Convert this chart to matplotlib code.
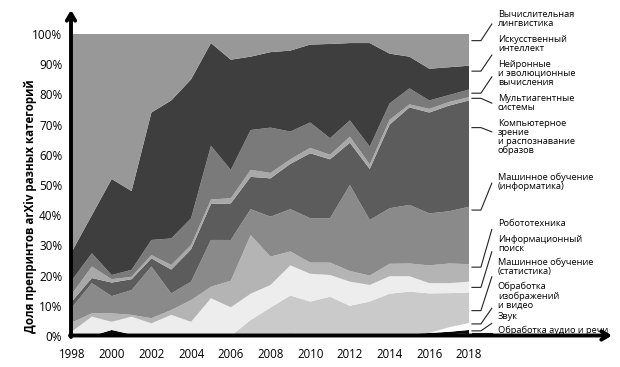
import numpy as np
import matplotlib
matplotlib.use('Agg')
import matplotlib.pyplot as plt

plt.rcParams['font.family'] = ['Open Sans', 'DejaVu Sans']

years = list(range(1998, 2019))

# доли категорий, % (снизу вверх по стопке)
audio_speech = [0, 0, 0, 0, 0, 0, 0, 0, 0, 0, 0, 0, 0, 0, 0, 0, 0, 0, 0, 0.5, 1.0]
sound = [0, 0, 2.0, 0.5, 0, 0, 0, 0, 0, 0, 0, 0.8, 0.3, 0.7, 0.2, 0.2, 0.3, 0.6, 1.0, 0.9, 1.0]
image_video = [0, 0, 0, 0, 0, 0, 0, 0, 0, 0, 0, 0, 0, 0, 0, 0, 0, 0, 0, 1.5, 2.3]
ml_stat = [0, 0, 0, 0, 0, 0, 0, 0, 0, 5.3, 9.4, 12.6, 11.1, 12.3, 9.8, 11.2, 13.7, 14.1, 13.1, 11.3, 10.1]
inf_retrieval = [1.5, 6.4, 2.7, 5.9, 4.2, 7.0, 4.7, 12.5, 9.5, 8.7, 7.5, 10.0, 9.2, 7.2, 8.0, 5.5, 5.8, 5.1, 3.4, 3.3, 3.6]
robotics = [3.0, 1.1, 2.8, 0.6, 1.7, 1.6, 7.2, 3.8, 8.8, 19.4, 9.4, 4.6, 3.7, 4.1, 3.5, 3.1, 4.1, 4.2, 5.9, 6.5, 5.8]
ml_cs = [5.0, 10.0, 5.7, 8.2, 17.1, 5.5, 6.1, 15.5, 13.5, 8.6, 13.2, 14.0, 14.7, 14.7, 28.5, 18.4, 18.4, 19.4, 17.2, 17.3, 19.0]
comp_vision = [2.0, 1.7, 4.5, 3.6, 2.7, 7.9, 10.7, 11.9, 12.1, 10.7, 12.7, 15.0, 21.5, 19.5, 14.0, 16.9, 27.7, 32.3, 33.4, 35.0, 35.2]
multiagent = [2.5, 3.8, 1.1, 0.8, 1.1, 1.5, 1.4, 1.5, 1.7, 2.3, 1.8, 1.5, 1.8, 1.5, 2.0, 1.5, 1.6, 1.0, 1.2, 1.2, 1.1]
neural_evol = [4.5, 4.4, 1.4, 2.3, 5.0, 8.8, 8.9, 17.8, 9.4, 13.2, 15.0, 9.2, 8.4, 5.5, 5.4, 5.9, 5.4, 5.3, 2.8, 2.3, 2.5]
art_intel = [9.5, 12.6, 31.8, 26.1, 42.2, 45.7, 46.0, 34.0, 36.5, 24.3, 25.0, 26.8, 25.8, 31.2, 25.6, 34.3, 16.5, 10.5, 10.5, 9.2, 7.9]
comp_ling = [72, 60, 48, 52, 26, 22, 15, 3, 8.5, 7.5, 6, 5.5, 3.5, 3.3, 3, 3, 6.5, 7.5, 11.5, 11, 10.5]

series = [audio_speech, sound, image_video, ml_stat, inf_retrieval, robotics,
          ml_cs, comp_vision, multiagent, neural_evol, art_intel, comp_ling]
colors = ['#000000', '#0a0a0a', '#ffffff', '#cacaca', '#ededed', '#b4b4b4',
          '#8a8a8a', '#5c5c5c', '#a8a8a8', '#7a7a7a', '#3e3e3e', '#989898']

labels = ['Обработка аудио и речи', 'Звук', 'Обработка\nизображений\nи видео',
          'Машинное обучение\n(статистика)', 'Информационный\nпоиск', 'Робототехника',
          'Машинное обучение\n(информатика)', 'Компьютерное\nзрение\nи распознавание\nобразов',
          'Мультиагентные\nсистемы', 'Нейронные\nи эволюционные\nвычисления',
          'Искусственный\nинтеллект', 'Вычислительная\nлингвистика']
# (y линии у края, y конца выноски, y центра подписи) в % оси
lab_pos = [(0.9, 0.9, 2.0), (1.7, 4.2, 6.4), (4.0, 9.2, 13.3), (8.4, 19.6, 22.9),
           (16.1, 27.9, 30.5), (22.8, 35.3, 37.1), (41.7, 50.6, 51.1), (69.0, 67.6, 65.9),
           (78.7, 77.1, 77.2), (80.4, 85.8, 87.0), (87.7, 93.0, 96.6), (97.8, 103.3, 104.9)]

W, H = 620, 367
fig = plt.figure(figsize=(W / 100, H / 100), dpi=100)
ax = fig.add_axes([72 / W, 31 / H, 397 / W, 302 / H])

ax.stackplot(years, *series, colors=colors, linewidth=0)
ax.set_xlim(1998, 2018)
ax.set_ylim(0, 100)
for s in ax.spines.values():
    s.set_visible(False)
ax.tick_params(length=0, labelsize=8.5)
ax.set_xticks(range(1998, 2019, 2))
ax.set_yticks(range(0, 101, 10))
ax.set_yticklabels([f'{v}%' for v in range(0, 101, 10)])
ax.tick_params(axis='x', pad=8.5, labelsize=8.3)
ax.tick_params(axis='y', pad=7)

# выноски и подписи справа
for lab, (y0, y1, yt) in zip(labels, lab_pos):
    ax.plot([2018.15, 2018.6, 2019.15], [y0, y0, y1], color='#222222', lw=0.8,
            clip_on=False)
    ax.text(2019.45, yt, lab, fontsize=6.7, va='center', ha='left',
            linespacing=0.98, clip_on=False)

# оси со стрелками
def fp(x, y):
    return (x / W, 1 - y / H)

ax.annotate('', xy=fp(71, 10), xytext=fp(71, 337), xycoords='figure fraction',
            textcoords='figure fraction',
            arrowprops=dict(arrowstyle='->, head_length=0.5, head_width=0.3', lw=2.8,
                            color='black', shrinkA=0, shrinkB=0))
ax.annotate('', xy=fp(612, 335.5), xytext=fp(70, 335.5), xycoords='figure fraction',
            textcoords='figure fraction',
            arrowprops=dict(arrowstyle='->, head_length=0.5, head_width=0.3', lw=2.8,
                            color='black', shrinkA=0, shrinkB=0))

fig.text(30 / W, 1 - 206 / H, 'Доля препринтов arXiv разных категорий', rotation=90,
         ha='center', va='center', fontsize=8.3, fontweight='bold')

fig.savefig('out.png', dpi=100)
